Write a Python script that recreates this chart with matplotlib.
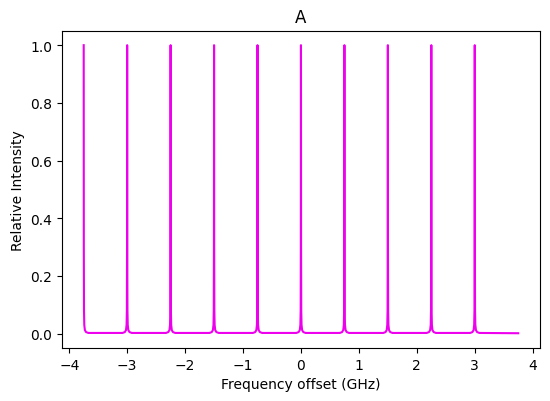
import numpy as np
import matplotlib
matplotlib.use('Agg')
import matplotlib.pyplot as plt

# peak positions (GHz)
peak_centers = [-3.75, -3.0, -2.25, -1.5, -0.75, 0.0, 0.75, 1.5, 2.25, 3.0]
# shape of one peak, offset from its centre (GHz) and relative intensity
profile_offsets = [-0.08, -0.04, -0.02, -0.01, -0.005, -0.002, 0.0,
                   0.002, 0.005, 0.01, 0.02, 0.04, 0.08]
profile_values = [0.002, 0.005, 0.012, 0.03, 0.08, 0.3, 1.0,
                  0.3, 0.08, 0.03, 0.012, 0.005, 0.002]
x_end = 3.75
y_end = 0.001

xs, ys = [], []
for c in peak_centers:
    for o, v in zip(profile_offsets, profile_values):
        if c + o < peak_centers[0]:
            continue
        xs.append(c + o)
        ys.append(v)
xs.append(x_end)
ys.append(y_end)

fig = plt.figure(figsize=(5.5, 4.02), dpi=100)
ax = fig.add_axes([0.1127, 0.132, 0.869, 0.789])
ax.plot(xs, ys, color='#ee00ee', lw=1.5)
ax.set_xlim(-4.125, 4.125)
ax.set_ylim(-0.05, 1.05)
ax.set_xlabel('Frequency offset (GHz)')
ax.set_ylabel('Relative Intensity')
ax.set_title('A')
fig.savefig('out.png', dpi=100)
